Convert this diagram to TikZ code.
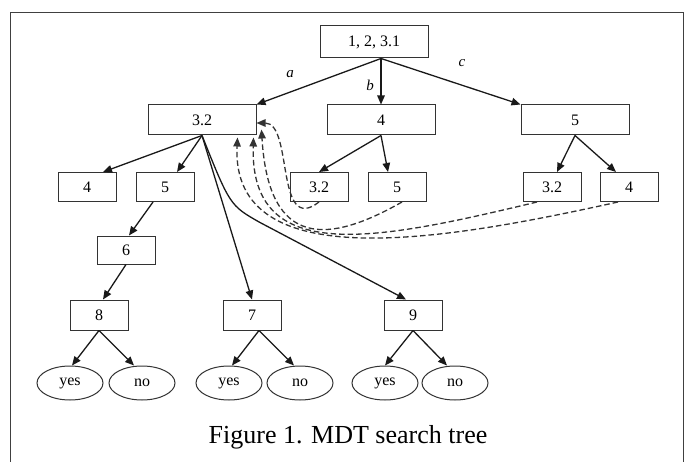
\documentclass[tikz,border=0pt]{standalone}
\usepackage{fontspec}
\setmainfont{Liberation Serif}
\usetikzlibrary{positioning, arrows.meta, shapes.geometric, calc}

\begin{document}
\begin{tikzpicture}[
    x=1pt, y=1pt,
    box/.style={rectangle, draw=black!80, line width=1pt, minimum width=58pt, minimum height=29pt, inner sep=0pt, font=\fontsize{16}{18}\selectfont},
    widebox/.style={box, minimum width=108pt, minimum height=30pt},
    leaf/.style={ellipse, draw=black!80, line width=1pt, minimum width=66pt, minimum height=34pt, inner sep=0pt, font=\fontsize{16}{18}\selectfont},
    arrow/.style={-{Triangle[length=9pt,width=7.5pt]}, line width=1.3pt, black!90},
    backarrow/.style={arrow, dash pattern=on 5.5pt off 3pt, black!80},
    lbl/.style={font=\fontsize{15}{18}\selectfont\itshape}
]
\useasboundingbox (0,0) rectangle (687,-462);
\draw[line width=0.9pt, black!75] (10,-462) |- (683,-12) -- (683,-462);

% Root
\node[widebox, minimum height=32pt] (root) at (374,-42) {1, 2, 3.1};

% Level 1
\node[widebox] (n32) at (202,-120) {3.2};
\node[widebox] (n4) at (381,-120) {4};
\node[widebox] (n5) at (575,-120) {5};
\node[lbl] (la) at (290,-74) {a};
\node[lbl] (lb) at (370,-85) {b};
\node[lbl] (lc) at (462,-63) {c};

% Level 2
\node[box] (a4) at (87,-187) {4};
\node[box] (a5) at (165,-187) {5};
\node[box] (b32) at (319,-187) {3.2};
\node[box] (b5) at (397,-187) {5};
\node[box] (c32) at (552,-187) {3.2};
\node[box] (c4) at (629,-187) {4};
\node[box, minimum height=28pt] (a6) at (126,-250) {6};

% Level 4
\node[box, minimum height=30pt] (a8) at (99,-315) {8};
\node[box, minimum height=30pt] (a7) at (252,-315) {7};
\node[box, minimum height=30pt] (a9) at (413,-315) {9};

% Leaves
\node[leaf] (y8) at (70,-383) {yes};
\node[leaf] (n8) at (142,-383) {no};
\node[leaf] (y7) at (229,-383) {yes};
\node[leaf] (n7) at (300,-383) {no};
\node[leaf] (y9) at (385,-383) {yes};
\node[leaf] (n9) at (455,-383) {no};

\node[font=\fontsize{26}{30}\selectfont] (caption) at (348,-437) {Figure 1. MDT search tree};

% Paths
\draw[arrow] ([xshift=7pt]root.south) -- (n32.north east);
\draw[arrow] ([xshift=7pt]root.south) -- (n4.north);
\draw[arrow] ([xshift=7pt]root.south) -- (n5.north west);
\draw[arrow] (n32.south) -- ([xshift=16pt]a4.north);
\draw[arrow] (n32.south) -- ([xshift=12pt]a5.north);
\draw[arrow] (n32.south) -- (a7.north);
\draw[arrow] (n32.south) .. controls +(28,-70) .. +(58,-87) -- ([xshift=-7pt]a9.north);
\draw[arrow] (n4.south) -- (b32.north);
\draw[arrow] (n4.south) -- ([xshift=-9pt]b5.north);
\draw[arrow] (n5.south) -- ([xshift=5pt]c32.north);
\draw[arrow] (n5.south) -- ([xshift=-13pt]c4.north);
\draw[arrow] ([xshift=-12pt]a5.south) -- ([xshift=3pt]a6.north);
\draw[arrow] (a6.south) -- ([xshift=4pt]a8.north);
\draw[arrow] (a8.south) -- ([xshift=2pt]y8.north);
\draw[arrow] (a8.south) -- ([xshift=-8pt]n8.north);
\draw[arrow] ([xshift=7pt]a7.south) -- ([xshift=3pt]y7.north);
\draw[arrow] ([xshift=7pt]a7.south) -- ([xshift=-6pt]n7.north);
\draw[arrow] (a9.south) -- (y9.north);
\draw[arrow] (a9.south) -- ([xshift=-8pt]n9.north);

% Back links
\draw[backarrow] (b32.south) .. controls +(-44,-34) and +(37,0) .. ([yshift=-3pt]n32.east);
\draw[backarrow] ([xshift=5pt]b5.south) .. controls +(-72,-41) and +(7,-121) .. ([shift={(5pt,6pt)}]n32.south east);
\draw[backarrow] ([xshift=-15pt]c32.south) .. controls +(-159,-38) and +(-4,-130) .. ([xshift=-3pt,yshift=-2pt]n32.south east);
\draw[backarrow] ([xshift=-11pt]c4.south) .. controls +(-168,-37) and +(-7,-142) .. ([xshift=-19pt,yshift=-2pt]n32.south east);

\end{tikzpicture}
\end{document}
